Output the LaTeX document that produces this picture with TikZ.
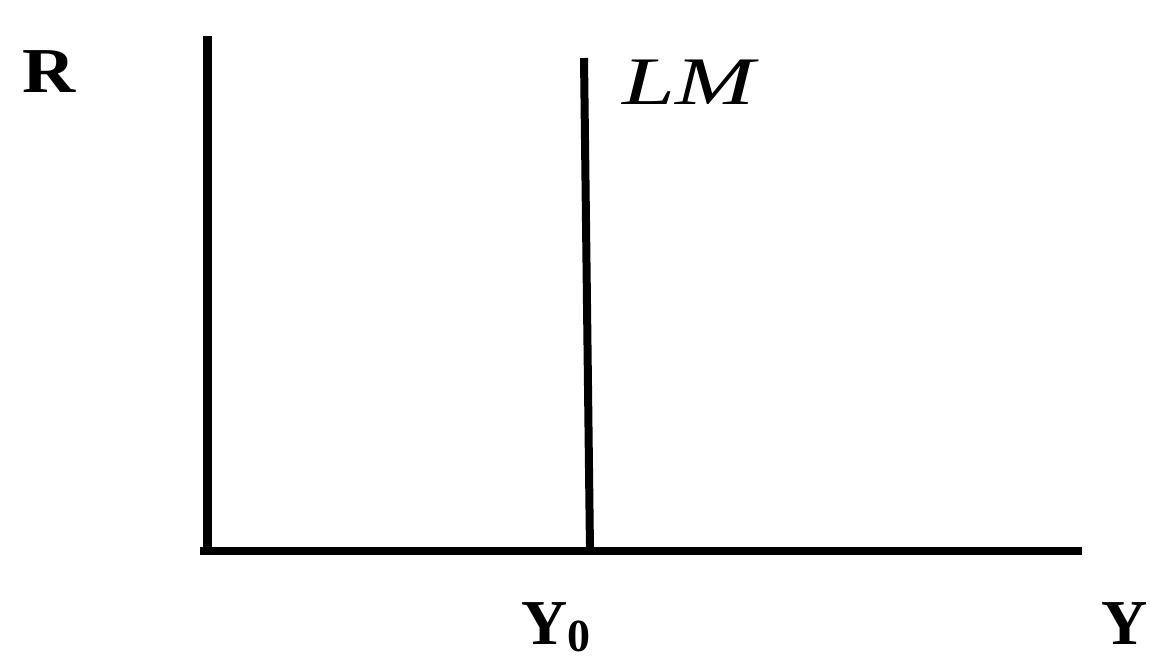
\documentclass[tikz,border=0pt]{standalone}
\usepackage{fontspec}
\setmainfont{Liberation Serif}
\usetikzlibrary{positioning}
\definecolor{ink}{HTML}{000000}
\tikzset{
  axislabel/.style={anchor=base west,inner sep=0pt,font=\fontsize{32}{32}\selectfont\bfseries},
  curvelabel/.style={anchor=base west,inner sep=0pt,font=\fontsize{34}{34}\selectfont\itshape}
}

\begin{document}
\begin{tikzpicture}[x=0.5pt,y=-0.5pt]
        \useasboundingbox (0,0) rectangle (1150,655);
        \coordinate (top) at (207,36);
        \coordinate (origin) at (207,551);
        \coordinate (start) at (200,551);
        \coordinate (end) at (1082,551);
        \coordinate (lmtop) at (584,58);
        \coordinate (lmbot) at (590,551);
        \draw[line width=4.5pt,ink] (top) -- (origin);
        \draw[line width=3.6pt,ink] (start) -- (end);
        \draw[line width=4pt,ink] (lmtop) -- (lmbot);
        \node[axislabel] (rlabel) at (22,92) {\scalebox{1.15}[1]{R}};
        \node[curvelabel] (lmlabel) at (622,104) {\scalebox{1.4}[1]{LM}};
        \node[axislabel] (y0label) at (521,644) {Y\raisebox{-3.5pt}{\fontsize{23}{23}\selectfont 0}};
        \node[axislabel] (ylabel) at (1101,644) {Y};
      \end{tikzpicture}
\end{document}
